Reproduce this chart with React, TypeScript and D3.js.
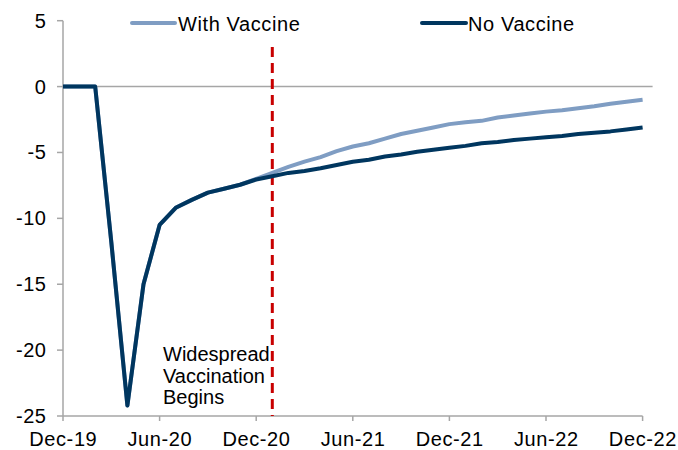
import React from "react";
import * as d3 from "d3";

const tickLabels = ["Dec-19", "Jun-20", "Dec-20", "Jun-21", "Dec-21", "Jun-22", "Dec-22"];
const yTicks = [5, 0, -5, -10, -15, -20, -25];

// monthly, Dec-19 (index 0) .. Dec-22 (index 36)
const noVaccine = [
  0, 0, 0, -11.8, -24.2, -15.0, -10.5, -9.2, -8.6, -8.05, -7.75, -7.45,
  -7.05, -6.8, -6.55, -6.4, -6.2, -5.95, -5.7, -5.55, -5.3, -5.15, -4.95, -4.8,
  -4.65, -4.5, -4.3, -4.2, -4.05, -3.95, -3.85, -3.75, -3.6, -3.5, -3.4, -3.25, -3.1,
];
const withVaccine = [
  0, 0, 0, -11.8, -24.2, -15.0, -10.5, -9.2, -8.6, -8.05, -7.75, -7.45,
  -7.0, -6.55, -6.1, -5.7, -5.35, -4.9, -4.55, -4.3, -3.95, -3.6, -3.35, -3.1,
  -2.85, -2.7, -2.6, -2.35, -2.2, -2.05, -1.9, -1.8, -1.65, -1.5, -1.3, -1.15, -1.0,
];
const vaccineStartIndex = 13;
const annotationLines = ["Widespread", "Vaccination", "Begins"];
const seriesNames = ["With Vaccine", "No Vaccine"];

const LIGHT = "#7F9DC3";
const DARK = "#00365F";
const AXIS = "#A6A6A6";
const RED = "#C80000";
const FONT = "'Liberation Sans', Arial, sans-serif";

export default function App() {
  const W = 678, H = 450;
  const x = d3.scaleLinear().domain([0, 36]).range([63, 642.6]);
  const y = d3.scaleLinear().domain([-25, 5]).range([416, 20.7]);
  const line = d3
    .line<number>()
    .x((_, i) => x(i))
    .y((d) => y(d));

  const xTickIdx = tickLabels.map((_, i) => i * 6);
  const ls = 0.6;

  return (
    <svg
      width={W}
      height={H}
      style={{ position: "absolute", left: 0, top: 0, display: "block", background: "#fff" }}
      fontFamily={FONT}
    >
      {/* y axis */}
      <line x1={x(0)} x2={x(0)} y1={y(5)} y2={y(-25)} stroke={AXIS} strokeWidth={1.5} />
      {yTicks.map((t) => (
        <g key={t}>
          <line x1={x(0) - 6} x2={x(0)} y1={y(t)} y2={y(t)} stroke={AXIS} strokeWidth={1.5} />
          <text x={46 + ls} y={y(t)} dy="0.35em" textAnchor="end" fontSize={20} letterSpacing={ls} fill="#000">
            {t}
          </text>
        </g>
      ))}
      {/* zero line */}
      <line x1={x(0)} x2={x(36) + 10} y1={y(0)} y2={y(0)} stroke={AXIS} strokeWidth={1.5} />
      {/* x axis */}
      <line x1={x(0)} x2={x(36)} y1={y(-25)} y2={y(-25)} stroke={AXIS} strokeWidth={1.5} />
      {xTickIdx.map((ti, i) => (
        <g key={ti}>
          <line x1={x(ti)} x2={x(ti)} y1={y(-25)} y2={y(-25) + 5} stroke={AXIS} strokeWidth={1.5} />
          <text x={x(ti) + ls / 2} y={446} textAnchor="middle" fontSize={20} letterSpacing={ls} fill="#000">
            {tickLabels[i]}
          </text>
        </g>
      ))}
      {/* vaccination marker */}
      <line
        x1={x(vaccineStartIndex)}
        x2={x(vaccineStartIndex)}
        y1={y(3)}
        y2={y(-25)}
        stroke={RED}
        strokeWidth={3}
        strokeDasharray="10,6"
      />
      <text fontSize={20} fill="#000">
        {annotationLines.map((l, i) => (
          <tspan key={l} x={163} y={361 + i * 21.6}>
            {l}
          </tspan>
        ))}
      </text>
      {/* series */}
      <path d={line(withVaccine) || ""} fill="none" stroke={LIGHT} strokeWidth={4} strokeLinejoin="round" />
      <path d={line(noVaccine) || ""} fill="none" stroke={DARK} strokeWidth={4} strokeLinejoin="round" />
      {/* legend */}
      <line x1={132} x2={175} y1={23} y2={23} stroke={LIGHT} strokeWidth={4} strokeLinecap="round" />
      <text x={178} y={31} fontSize={20} letterSpacing={ls} fill="#000">
        {seriesNames[0]}
      </text>
      <line x1={422} x2={466} y1={23} y2={23} stroke={DARK} strokeWidth={4} strokeLinecap="round" />
      <text x={468} y={31} fontSize={20} letterSpacing={ls} fill="#000">
        {seriesNames[1]}
      </text>
    </svg>
  );
}
